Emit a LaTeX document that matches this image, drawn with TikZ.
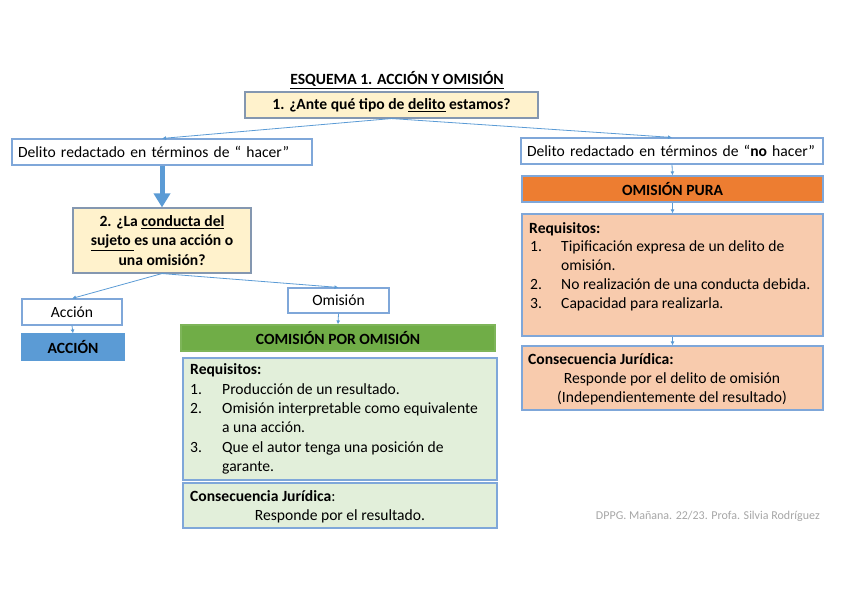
\documentclass[tikz,border=0pt]{standalone}
\usepackage{fontspec}
\setmainfont{Carlito}
\usetikzlibrary{arrows.meta}
\definecolor{bluebord}{HTML}{7FA7D9}
\definecolor{greybord}{HTML}{8497B0}
\definecolor{lineblue}{HTML}{5B9BD5}
\definecolor{yelfill}{HTML}{FFF2CC}
\definecolor{accfill}{HTML}{5B9BD5}
\definecolor{grnfill}{HTML}{70AD47}
\definecolor{lgrnfill}{HTML}{E2EFDA}
\definecolor{orgfill}{HTML}{ED7D31}
\definecolor{pchfill}{HTML}{F8CBAD}
\definecolor{foot}{HTML}{A6A6A6}
\tikzset{
  basebox/.style={draw=bluebord, line width=1.1pt, inner sep=0pt, font=\fontsize{15.6}{19}\selectfont},
  wbox/.style={basebox, fill=white},
  ybox/.style={basebox, draw=greybord, fill=yelfill, font=\fontsize{15.6}{19.2}\selectfont\bfseries, align=center},
  cbox/.style={basebox, font=\fontsize{15.6}{19}\selectfont\bfseries},
  conn/.style={draw=lineblue, line width=0.8pt, -{Latex[length=4pt,width=4pt]}},
  bigarrow/.style={draw=lineblue, line width=5pt, -{Triangle[length=14pt,width=16pt]}},
  txt/.style={inner sep=0pt, anchor=mid west, yshift=-2pt, font=\fontsize{15.6}{19}\selectfont},
  ctxt/.style={inner sep=0pt, anchor=mid, yshift=-2pt, font=\fontsize{15.6}{19}\selectfont},
}
\begin{document}
\begin{tikzpicture}[x=1pt,y=-1pt]
\useasboundingbox (0,0) rectangle (848,599);

% title
\node[inner sep=0pt, font=\fontsize{15.6}{19}\selectfont\bfseries] (title) at (397,80) {\underline{ESQUEMA 1. ACCIÓN Y OMISIÓN}};

% question 1
\node[ybox, minimum width=293pt, minimum height=26pt] (q1) at (391.5,105) {1. ¿Ante qué tipo de \underline{delito} estamos?};

% hacer / no hacer
\node[wbox, minimum height=26pt, inner xsep=6pt, text width=288pt, align=left] (hacer) at (162,152) {Delito redactado en términos de “ hacer”};
\node[wbox, minimum height=26pt, inner xsep=6pt, text width=290pt, align=left] (nohacer) at (672,151) {Delito redactado en términos de “\textbf{no} hacer”};

% question 2
\node[ybox, minimum width=178pt, minimum height=65pt] (q2) at (162,240.5) {2. ¿La \underline{conducta del}\\\underline{sujeto }es una acción o\\una omisión?};

% accion branch
\node[wbox, minimum width=100pt, minimum height=26pt] (accion) at (72,312) {Acción};
\node[cbox, fill=accfill, draw=accfill, minimum width=102pt, minimum height=26pt] (ACCION) at (73,347) {ACCIÓN};

% omision branch
\node[wbox, minimum width=101pt, minimum height=25pt] (omision) at (338.5,300.5) {Omisión};
\node[cbox, fill=grnfill, draw=grnfill!90!white, minimum width=314pt, minimum height=26pt] (comision) at (338,338) {COMISIÓN POR OMISIÓN};
\node[basebox, fill=lgrnfill, minimum width=314pt, minimum height=122pt] (greq) at (340,419) {};
\node[basebox, fill=lgrnfill, minimum width=314pt, minimum height=45pt] (gcons) at (340,505.5) {};

\node[txt] (gr0) at (190,370) {\textbf{Requisitos:}};
\node[txt] (gr1n) at (190,390) {1.};
\node[txt] (gr1) at (222,390) {Producción de un resultado.};
\node[txt] (gr2n) at (190,409) {2.};
\node[txt] (gr2) at (222,409) {Omisión interpretable como equivalente};
\node[txt] (gr2b) at (222,428) {a una acción.};
\node[txt] (gr3n) at (190,448) {3.};
\node[txt] (gr3) at (222,448) {Que el autor tenga una posición de};
\node[txt] (gr3b) at (222,467) {garante.};
\node[txt] (gc0) at (190,497) {\textbf{Consecuencia Jurídica}:};
\node[ctxt] (gc1) at (340,516) {Responde por el resultado.};

% omision pura branch
\node[cbox, fill=orgfill, draw=bluebord, minimum width=301pt, minimum height=26pt] (opura) at (672.5,189) {OMISIÓN PURA};
\node[basebox, fill=pchfill, minimum width=301pt, minimum height=122pt] (preq) at (672.5,275) {};
\node[basebox, fill=pchfill, minimum width=301pt, minimum height=64pt] (pcons) at (672.5,378) {};

\node[txt] (pr0) at (529,229) {\textbf{Requisitos:}};
\node[txt] (pr1n) at (530,247) {1.};
\node[txt] (pr1) at (561,247) {Tipificación expresa de un delito de};
\node[txt] (pr1b) at (561,266) {omisión.};
\node[txt] (pr2n) at (530,285) {2.};
\node[txt] (pr2) at (561,285) {No realización de una conducta debida.};
\node[txt] (pr3n) at (530,304) {3.};
\node[txt] (pr3) at (561,304) {Capacidad para realizarla.};
\node[txt] (pc0) at (528,360) {\textbf{Consecuencia Jurídica:}};
\node[ctxt] (pc1) at (672,379) {Responde por el delito de omisión};
\node[ctxt] (pc2) at (672,398) {(Independientemente del resultado)};

% footer
\node[inner sep=0pt, anchor=mid east, text=foot, font=\fontsize{12}{14}\selectfont] (footer) at (820,517) {DPPG. Mañana. 22/23. Profa. Silvia Rodríguez};

% connectors
\draw[conn] (q1.south) -- (hacer.north);
\draw[conn] (q1.south) -- (nohacer.north);
\draw[bigarrow] (hacer.south) -- (q2.north);
\draw[conn] (q2.south) -- (accion.north);
\draw[conn] (q2.south) -- (omision.north);
\draw[conn] (accion.south) -- (ACCION.north);
\draw[conn] (omision.south) -- (comision.north);
\draw[conn] (nohacer.south) -- (opura.north);
\draw[conn] (opura.south) -- (preq.north);
\draw[conn] (preq.south) -- (pcons.north);
\end{tikzpicture}
\end{document}
